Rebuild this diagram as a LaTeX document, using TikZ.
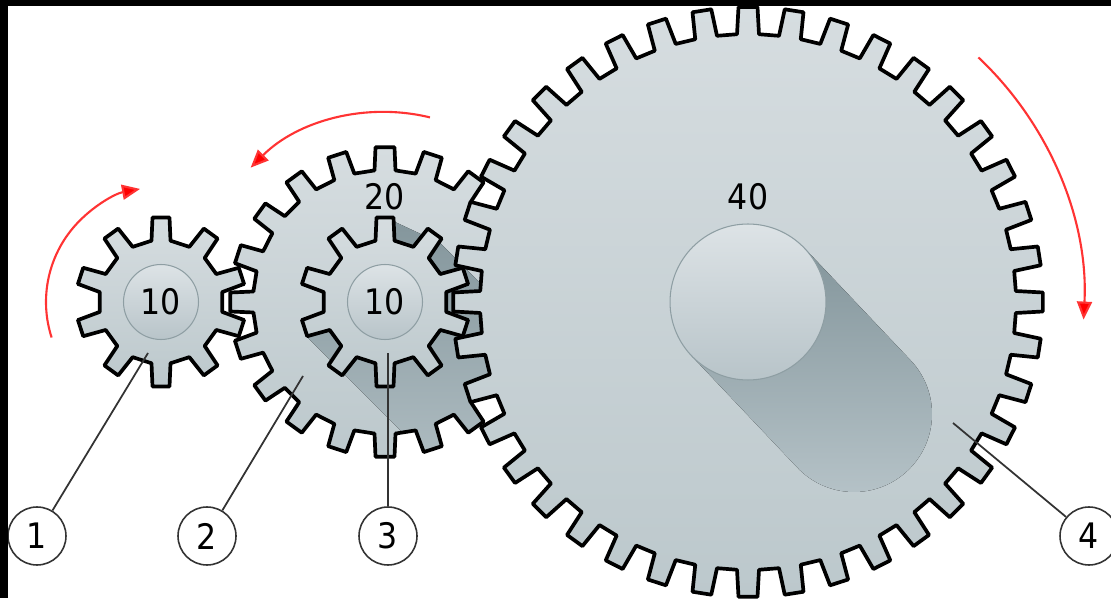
\documentclass[tikz,border=0pt]{standalone}
\usepackage{fontspec}
\setmainfont{DejaVu Sans Condensed}
\usepackage{tikz}
\usetikzlibrary{arrows.meta,shapes.geometric}
\definecolor{geartop}{HTML}{D6DDE0}
\definecolor{gearbot}{HTML}{BCC8CC}
\definecolor{hubtop}{HTML}{DDE3E6}
\definecolor{hubbot}{HTML}{B8C4C9}
\definecolor{hubline}{HTML}{8E9EA3}
\definecolor{shadowtop}{HTML}{84969C}
\definecolor{shadowbot}{HTML}{B6C3C8}
\definecolor{spinred}{HTML}{FF3333}
\definecolor{leadgray}{HTML}{333333}
\newcommand{\gearpath}[5]{%
  ({90+asin(#5/#2)}:#2)
  foreach \t [evaluate=\t as \a using 90-\t*360/#1] in {1,...,#1}{
    -- ({\a+360/#1+asin(#5/#2)}:#2) -- ({\a+360/#1+asin(#4/#3)}:#3)
    -- ({\a+360/#1-asin(#4/#3)}:#3) -- ({\a+360/#1-asin(#5/#2)}:#2)
  } -- cycle}
\begin{document}
\begin{tikzpicture}[
  x=0.02cm, y=0.02cm,
  font=\fontsize{20}{24}\selectfont,
  gearbody/.style={top color=geartop, bottom color=gearbot, draw=none},
  gearline/.style={draw=black, line width=2.1pt, line join=round},
  hub/.style={circle, draw=hubline, line width=0.6pt, top color=hubtop, bottom color=hubbot,
              inner sep=0pt, minimum size=#1},
  callout/.style={circle, draw=leadgray, line width=0.9pt, fill=white, inner sep=0pt, minimum size=1.16cm},
  lead/.style={draw=leadgray, line width=1pt},
  spin/.style={draw=spinred, line width=1.2pt, -{Triangle[length=3.6mm,width=3mm,fill=red]}},
  castshadow/.style={top color=shadowtop, bottom color=shadowbot, draw=none},
]
\useasboundingbox (0,0) rectangle (1111,598);
\fill[white] (0,0) rectangle (1111,598);
\coordinate (g1) at (161,296);
\coordinate (g2) at (385,296);
\coordinate (g4) at (748,296);
\path[gearbody, shift={(385,296)}] \gearpath{20}{132}{155}{9.5}{10.5};
\begin{scope}
  \clip[shift={(385,296)}] \gearpath{20}{132}{155}{9.5}{10.5};
  \fill[castshadow] (385,296) -- (395,376) -- (440,355) -- (640,155) -- (480,88) -- (308,260) -- cycle;
\end{scope}
\path[gearline, shift={(385,296)}] \gearpath{20}{132}{155}{9.5}{10.5};
\path[gearbody, shift={(748,296)}] \gearpath{40}{268}{295}{9.5}{11};
\fill[castshadow] ([shift={(43.4:78)}]g4) -- ++(106,-112) arc[start angle=43.4, end angle=-136.6, radius=78]
  -- ([shift={(-136.6:78)}]g4) -- cycle;
\path[gearline, shift={(748,296)}] \gearpath{40}{268}{295}{9.5}{11};
\node[hub=3.12cm] (hub4) at (g4) {};
\node (num4) at (748,401) {40};
\path[gearbody, gearline, shift={(385,296)}] \gearpath{10}{62}{85}{8.5}{9.5};
\path[gearbody, gearline, shift={(161,296)}] \gearpath{10}{62}{85}{8.5}{9.5};
\node[hub=1.5cm] (hub1) at (g1) {10};
\node[hub=1.5cm] (hub3) at (g2) {10};
\node (num2) at (385,401) {20};
\node[callout] (lab1) at (37,62) {1};
\node[callout] (lab2) at (207,62) {2};
\node[callout] (lab3) at (388,62) {3};
\node[callout] (lab4) at (1089,62) {4};
\coordinate (tip1) at (148,245);
\coordinate (tip2) at (303,222);
\coordinate (tip3) at (388,245);
\coordinate (tip4) at (953,175);
\draw[lead] (lab1) -- (tip1);
\draw[lead] (lab2) -- (tip2);
\draw[lead, line width=1.5pt] (lab3) -- (tip3);
\draw[lead] (lab4) -- (tip4);
\draw[spin] (g1) ++(198:115) arc[start angle=198, end angle=100.5, radius=115];
\draw[spin] (g2) ++(76.3:190) arc[start angle=76.3, end angle=135, radius=190];
\draw[spin] (g4) ++(46.7:336) arc[start angle=46.7, end angle=-3, radius=336];
\fill[black] (0,0) rectangle (8,598);
\fill[black] (0,592) rectangle (1111,598);
\end{tikzpicture}
\end{document}
